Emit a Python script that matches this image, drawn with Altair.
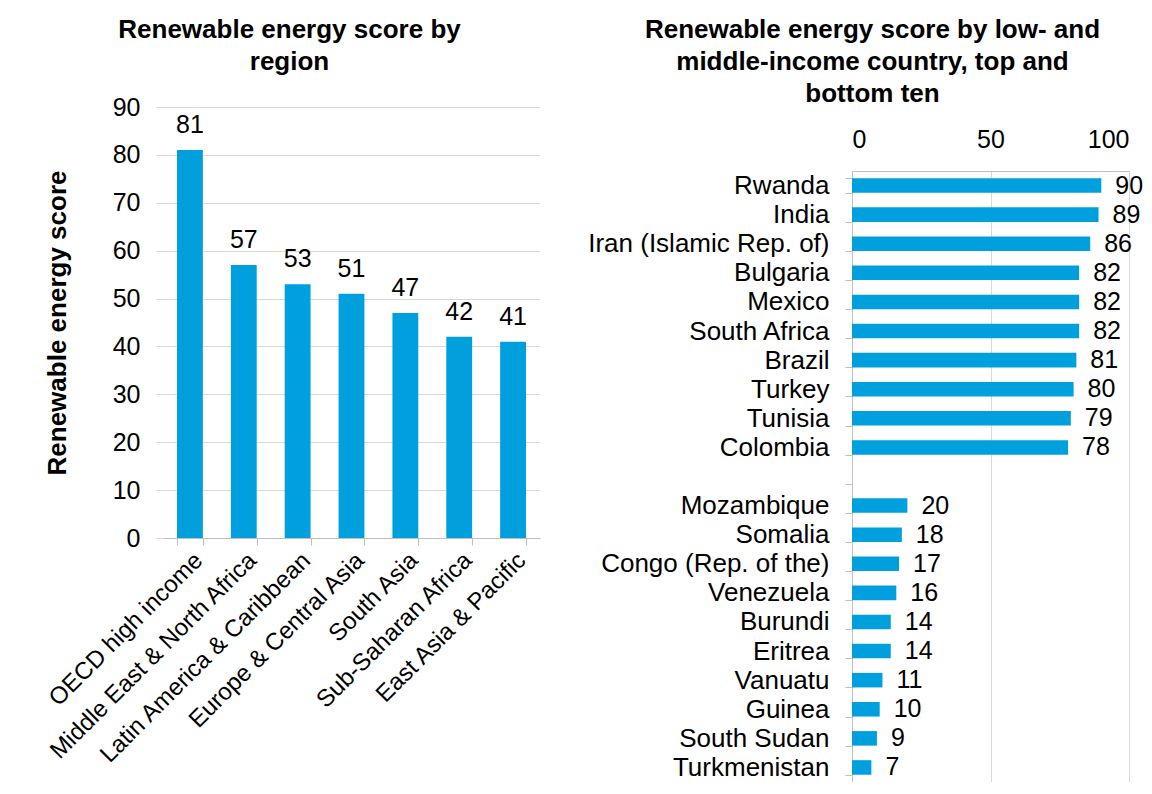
import altair as alt
import pandas as pd

# ---- data ----
regions = ["OECD high income", "Middle East & North Africa", "Latin America & Caribbean",
           "Europe & Central Asia", "South Asia", "Sub-Saharan Africa", "East Asia & Pacific"]
region_scores = [81, 57, 53, 51, 47, 42, 41]

top_countries = ["Rwanda", "India", "Iran (Islamic Rep. of)", "Bulgaria", "Mexico",
                 "South Africa", "Brazil", "Turkey", "Tunisia", "Colombia"]
top_scores = [90, 89, 86, 82, 82, 82, 81, 80, 79, 78]

bottom_countries = ["Mozambique", "Somalia", "Congo (Rep. of the)", "Venezuela", "Burundi",
                    "Eritrea", "Vanuatu", "Guinea", "South Sudan", "Turkmenistan"]
bottom_scores = [20, 18, 17, 16, 14, 14, 11, 10, 9, 7]

left_title = ["Renewable energy score by", "region"]
right_title = ["Renewable energy score by low- and", "middle-income country, top and", "bottom ten"]
y_title = "Renewable energy score"

# ---- styling ----
FONT = "Liberation Sans"
BLUE = "#00a0df"
GRID = "#d9d9d9"
AXIS = "#bfbfbf"
LBL = 25

df_r = pd.DataFrame({"region": regions, "score": region_scores})

spacer = " "
country_order = top_countries + [spacer] + bottom_countries
df_c = pd.DataFrame({
    "country": country_order,
    "score": top_scores + [None] + bottom_scores,
})

# ---- left chart ----
xl = alt.X("region:N", sort=regions, title=None,
           scale=alt.Scale(paddingInner=0.52, paddingOuter=0.26),
           axis=alt.Axis(labelAngle=-45, labelFontSize=24, labelFont=FONT, labelColor="black",
                         tickBand="extent", tickSize=7, tickColor=AXIS, domainColor=AXIS,
                         labelPadding=3, labelLimit=500, grid=False))
yl = alt.Y("score:Q", scale=alt.Scale(domain=[0, 90]), title=y_title,
           axis=alt.Axis(values=list(range(0, 91, 10)), domain=False, tickSize=7, tickColor=GRID,
                         gridColor=GRID, labelFontSize=LBL, labelFont=FONT, labelColor="black",
                         labelPadding=16, titleFontSize=26, titleFont=FONT, titleFontWeight="bold",
                         titleColor="black", titlePadding=42))

base_l = alt.Chart(df_r)
bars_l = base_l.mark_bar(color=BLUE).encode(x=xl, y=yl)
text_l = base_l.mark_text(baseline="bottom", dy=-12, fontSize=LBL, font=FONT, color="black").encode(
    x=alt.X("region:N", sort=regions), y=alt.Y("score:Q"), text="score:Q")

left = alt.layer(bars_l, text_l).properties(
    width=377, height=431,
    title=alt.TitleParams(left_title, fontSize=26, font=FONT, fontWeight="bold", color="black",
                          lineHeight=32, anchor="middle", offset=20, dx=-62),
)

# ---- right chart ----
xr = alt.X("score:Q", scale=alt.Scale(domain=[0, 100]), title=None,
           axis=alt.Axis(orient="top", values=[0, 50, 100], ticks=False, domainColor=AXIS,
                         gridColor=GRID, labelFontSize=LBL, labelFont=FONT, labelColor="black",
                         labelPadding=19))
yr = alt.Y("country:N", sort=country_order, title=None,
           scale=alt.Scale(paddingInner=0.5, paddingOuter=0.25),
           axis=alt.Axis(tickBand="extent", tickSize=7, tickColor=AXIS, domainColor=AXIS,
                         labelFontSize=26, labelFont=FONT, labelColor="black", labelPadding=16,
                         labelLimit=500))

base_r = alt.Chart(df_c)
bars_r = base_r.mark_bar(color=BLUE).encode(x=xr, y=yr)
text_r = base_r.transform_filter("isValid(datum.score)").mark_text(
    align="left", baseline="middle", dx=14, fontSize=LBL, font=FONT, color="black").encode(
    x=alt.X("score:Q"), y=alt.Y("country:N", sort=country_order), text="score:Q")

right_plot = alt.layer(bars_r, text_r).properties(width=277, height=611)

# header holding the right-hand title, so the two titles start at the same height
right_head = alt.Chart(pd.DataFrame({"v": [0]})).mark_point(opacity=0, size=1).encode(
    x=alt.value(0), y=alt.value(0)
).properties(
    width=277, height=1,
    title=alt.TitleParams(right_title, fontSize=26, font=FONT, fontWeight="bold", color="black",
                          lineHeight=32, anchor="middle", offset=0, dx=-118),
)

right = alt.vconcat(right_head, right_plot, spacing=19)

chart = alt.hconcat(left, right, spacing=47).configure_view(
    stroke=None).properties(padding={"left": 36, "right": 0, "top": 8, "bottom": 0})

chart.save("out.html", embed_options={"renderer": "svg", "actions": False})
